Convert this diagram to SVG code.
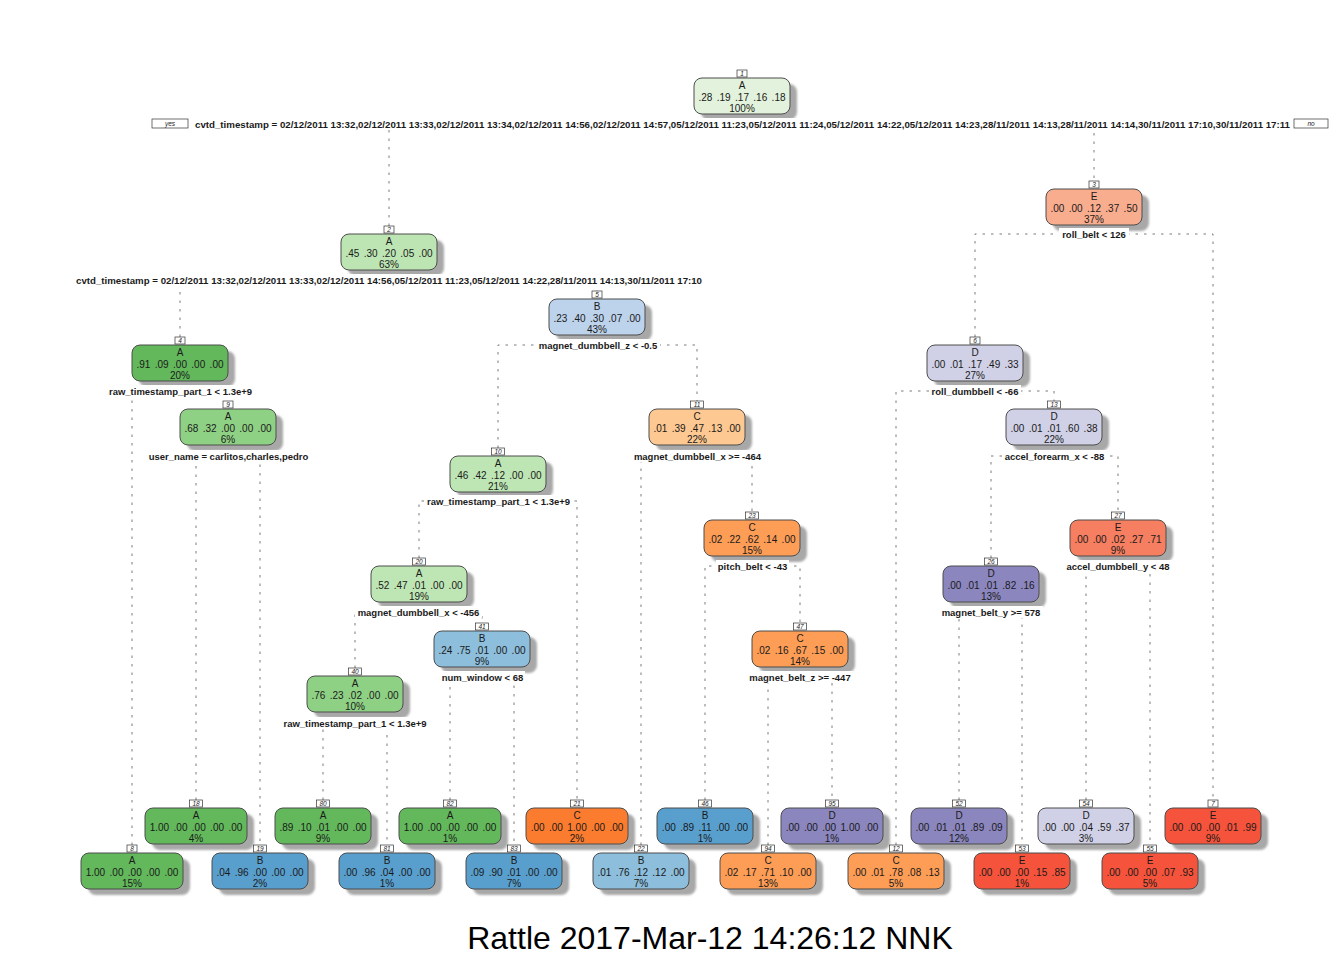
<svg xmlns="http://www.w3.org/2000/svg" width="1344" height="960" viewBox="0 0 1344 960">
<defs>
<filter id="blur" x="-10%" y="-20%" width="120%" height="140%"><feGaussianBlur stdDeviation="1.2"/></filter>
<style>
.sh{fill:#a8a8a8;filter:url(#blur)}
.box{stroke:#4d4d4d;stroke-width:1}
.t{font-family:"Liberation Sans",Arial,sans-serif;font-size:10px;text-anchor:middle;fill:#1a1a1a}
.v{word-spacing:1.6px}
.sp{font-family:"Liberation Sans",Arial,sans-serif;font-size:9.5px;font-weight:bold;text-anchor:middle;fill:#1a1a1a}
.bg{fill:#fff}
.nb{fill:#fff;stroke:#333;stroke-width:0.7}
.nt{font-family:"Liberation Sans",Arial,sans-serif;font-size:6.5px;font-style:italic;text-anchor:middle;fill:#222}
.c{fill:none;stroke:#7a7a7a;stroke-width:1;stroke-dasharray:2.5 6}
.yn{fill:#fff;stroke:#333;stroke-width:0.7}
.ft{font-family:"Liberation Sans",Arial,sans-serif;font-size:32px;text-anchor:middle;fill:#000}
</style>
</defs>
<rect width="1344" height="960" fill="#fff"/>
<g id="connectors">
<path class="c" d="M389,226 V124 H1094 V181"/>
<path class="c" d="M180,337 V280 H597 V291"/>
<path class="c" d="M975,337 V234 H1213 V800"/>
<path class="c" d="M132,845 V391 H228 V401"/>
<path class="c" d="M498,448 V345 H697 V401"/>
<path class="c" d="M896,845 V391 H1054 V401"/>
<path class="c" d="M196,800 V456 H260 V845"/>
<path class="c" d="M419,558 V501 H577 V800"/>
<path class="c" d="M641,845 V456 H752 V512"/>
<path class="c" d="M991,558 V456 H1118 V512"/>
<path class="c" d="M355,668 V612 H482 V623"/>
<path class="c" d="M705,800 V566 H800 V623"/>
<path class="c" d="M959,800 V612 H1022 V845"/>
<path class="c" d="M1086,800 V566 H1150 V845"/>
<path class="c" d="M323,800 V723 H387 V845"/>
<path class="c" d="M450,800 V677 H514 V845"/>
<path class="c" d="M768,845 V677 H832 V800"/>
</g>

<g id="node1">
<rect class="sh" x="701" y="84" width="96" height="36" rx="8"/>
<rect class="box" x="694" y="78" width="96" height="36" rx="8" fill="#e2f2dc"/>
<rect class="nb" x="737" y="70" width="10" height="7"/><text class="nt" x="742" y="76">1</text>
<text class="t" x="742" y="89">A</text><text class="t v" x="742" y="100.5">.28 .19 .17 .16 .18</text><text class="t" x="742" y="112">100%</text>
<rect class="bg" x="192" y="118" width="1101" height="12"/>
<text class="sp" x="742.5" y="127.5" textLength="1095" lengthAdjust="spacingAndGlyphs">cvtd_timestamp = 02/12/2011 13:32,02/12/2011 13:33,02/12/2011 13:34,02/12/2011 14:56,02/12/2011 14:57,05/12/2011 11:23,05/12/2011 11:24,05/12/2011 14:22,05/12/2011 14:23,28/11/2011 14:13,28/11/2011 14:14,30/11/2011 17:10,30/11/2011 17:11</text>
<rect class="yn" x="152" y="119" width="36" height="9"/><text class="nt" x="170" y="126">yes</text>
<rect class="yn" x="1294" y="119" width="34" height="9"/><text class="nt" x="1311" y="126">no</text>
</g>

<g id="node2">
<rect class="sh" x="348" y="240" width="96" height="36" rx="8"/>
<rect class="box" x="341" y="234" width="96" height="36" rx="8" fill="#bde5b3"/>
<rect class="nb" x="384" y="226" width="10" height="7"/><text class="nt" x="389" y="232">2</text>
<text class="t" x="389" y="245">A</text><text class="t v" x="389" y="256.5">.45 .30 .20 .05 .00</text><text class="t" x="389" y="268">63%</text>
<rect class="bg" x="73" y="274" width="632" height="12"/>
<text class="sp" x="389" y="283.5" textLength="626" lengthAdjust="spacingAndGlyphs">cvtd_timestamp = 02/12/2011 13:32,02/12/2011 13:33,02/12/2011 14:56,05/12/2011 11:23,05/12/2011 14:22,28/11/2011 14:13,30/11/2011 17:10</text>
</g>

<g id="node3">
<rect class="sh" x="1053" y="195" width="96" height="36" rx="8"/>
<rect class="box" x="1046" y="189" width="96" height="36" rx="8" fill="#f9ad8f"/>
<rect class="nb" x="1089" y="181" width="10" height="7"/><text class="nt" x="1094" y="187">3</text>
<text class="t" x="1094" y="200">E</text><text class="t v" x="1094" y="211.5">.00 .00 .12 .37 .50</text><text class="t" x="1094" y="223">37%</text>
<rect class="bg" x="1059" y="228" width="70" height="12"/>
<text class="sp" x="1094" y="237.5">roll_belt &lt; 126</text>
</g>

<g id="node4">
<rect class="sh" x="139" y="351" width="96" height="36" rx="8"/>
<rect class="box" x="132" y="345" width="96" height="36" rx="8" fill="#63b85c"/>
<rect class="nb" x="175" y="337" width="10" height="7"/><text class="nt" x="180" y="343">4</text>
<text class="t" x="180" y="356">A</text><text class="t v" x="180" y="367.5">.91 .09 .00 .00 .00</text><text class="t" x="180" y="379">20%</text>
<rect class="bg" x="105" y="385" width="151" height="12"/>
<text class="sp" x="180.5" y="394.5">raw_timestamp_part_1 &lt; 1.3e+9</text>
</g>

<g id="node5">
<rect class="sh" x="556" y="305" width="96" height="36" rx="8"/>
<rect class="box" x="549" y="299" width="96" height="36" rx="8" fill="#bdd3ec"/>
<rect class="nb" x="592" y="291" width="10" height="7"/><text class="nt" x="597" y="297">5</text>
<text class="t" x="597" y="310">B</text><text class="t v" x="597" y="321.5">.23 .40 .30 .07 .00</text><text class="t" x="597" y="333">43%</text>
<rect class="bg" x="536" y="339" width="124" height="12"/>
<text class="sp" x="598" y="348.5">magnet_dumbbell_z &lt; -0.5</text>
</g>

<g id="node6">
<rect class="sh" x="934" y="351" width="96" height="36" rx="8"/>
<rect class="box" x="927" y="345" width="96" height="36" rx="8" fill="#d0d1e6"/>
<rect class="nb" x="970" y="337" width="10" height="7"/><text class="nt" x="975" y="343">6</text>
<text class="t" x="975" y="356">D</text><text class="t v" x="975" y="367.5">.00 .01 .17 .49 .33</text><text class="t" x="975" y="379">27%</text>
<rect class="bg" x="929" y="385" width="92" height="12"/>
<text class="sp" x="975" y="394.5">roll_dumbbell &lt; -66</text>
</g>

<g id="node9">
<rect class="sh" x="187" y="415" width="96" height="36" rx="8"/>
<rect class="box" x="180" y="409" width="96" height="36" rx="8" fill="#8fd184"/>
<rect class="nb" x="223" y="401" width="10" height="7"/><text class="nt" x="228" y="407">9</text>
<text class="t" x="228" y="420">A</text><text class="t v" x="228" y="431.5">.68 .32 .00 .00 .00</text><text class="t" x="228" y="443">6%</text>
<rect class="bg" x="146" y="450" width="165" height="12"/>
<text class="sp" x="228.5" y="459.5">user_name = carlitos,charles,pedro</text>
</g>

<g id="node10">
<rect class="sh" x="457" y="462" width="96" height="36" rx="8"/>
<rect class="box" x="450" y="456" width="96" height="36" rx="8" fill="#bee6b4"/>
<rect class="nb" x="491.5" y="448" width="13" height="7"/><text class="nt" x="498" y="454">10</text>
<text class="t" x="498" y="467">A</text><text class="t v" x="498" y="478.5">.46 .42 .12 .00 .00</text><text class="t" x="498" y="490">21%</text>
<rect class="bg" x="425" y="495" width="147" height="12"/>
<text class="sp" x="498.5" y="504.5">raw_timestamp_part_1 &lt; 1.3e+9</text>
</g>

<g id="node11">
<rect class="sh" x="656" y="415" width="96" height="36" rx="8"/>
<rect class="box" x="649" y="409" width="96" height="36" rx="8" fill="#fdc891"/>
<rect class="nb" x="690.5" y="401" width="13" height="7"/><text class="nt" x="697" y="407">11</text>
<text class="t" x="697" y="420">C</text><text class="t v" x="697" y="431.5">.01 .39 .47 .13 .00</text><text class="t" x="697" y="443">22%</text>
<rect class="bg" x="631" y="450" width="133" height="12"/>
<text class="sp" x="697.5" y="459.5">magnet_dumbbell_x &gt;= -464</text>
</g>

<g id="node13">
<rect class="sh" x="1013" y="415" width="96" height="36" rx="8"/>
<rect class="box" x="1006" y="409" width="96" height="36" rx="8" fill="#d0d1e6"/>
<rect class="nb" x="1047.5" y="401" width="13" height="7"/><text class="nt" x="1054" y="407">13</text>
<text class="t" x="1054" y="420">D</text><text class="t v" x="1054" y="431.5">.00 .01 .01 .60 .38</text><text class="t" x="1054" y="443">22%</text>
<rect class="bg" x="1002" y="450" width="105" height="12"/>
<text class="sp" x="1054.5" y="459.5">accel_forearm_x &lt; -88</text>
</g>

<g id="node20">
<rect class="sh" x="378" y="572" width="96" height="36" rx="8"/>
<rect class="box" x="371" y="566" width="96" height="36" rx="8" fill="#bee6b4"/>
<rect class="nb" x="412.5" y="558" width="13" height="7"/><text class="nt" x="419" y="564">20</text>
<text class="t" x="419" y="577">A</text><text class="t v" x="419" y="588.5">.52 .47 .01 .00 .00</text><text class="t" x="419" y="600">19%</text>
<rect class="bg" x="355" y="606" width="127" height="12"/>
<text class="sp" x="418.5" y="615.5">magnet_dumbbell_x &lt; -456</text>
</g>

<g id="node23">
<rect class="sh" x="711" y="526" width="96" height="36" rx="8"/>
<rect class="box" x="704" y="520" width="96" height="36" rx="8" fill="#fd9d56"/>
<rect class="nb" x="745.5" y="512" width="13" height="7"/><text class="nt" x="752" y="518">23</text>
<text class="t" x="752" y="531">C</text><text class="t v" x="752" y="542.5">.02 .22 .62 .14 .00</text><text class="t" x="752" y="554">15%</text>
<rect class="bg" x="716" y="560" width="73" height="12"/>
<text class="sp" x="752.5" y="569.5">pitch_belt &lt; -43</text>
</g>

<g id="node26">
<rect class="sh" x="950" y="572" width="96" height="36" rx="8"/>
<rect class="box" x="943" y="566" width="96" height="36" rx="8" fill="#8b86be"/>
<rect class="nb" x="984.5" y="558" width="13" height="7"/><text class="nt" x="991" y="564">26</text>
<text class="t" x="991" y="577">D</text><text class="t v" x="991" y="588.5">.00 .01 .01 .82 .16</text><text class="t" x="991" y="600">13%</text>
<rect class="bg" x="939" y="606" width="104" height="12"/>
<text class="sp" x="991" y="615.5">magnet_belt_y &gt;= 578</text>
</g>

<g id="node27">
<rect class="sh" x="1077" y="526" width="96" height="36" rx="8"/>
<rect class="box" x="1070" y="520" width="96" height="36" rx="8" fill="#f67e61"/>
<rect class="nb" x="1111.5" y="512" width="13" height="7"/><text class="nt" x="1118" y="518">27</text>
<text class="t" x="1118" y="531">E</text><text class="t v" x="1118" y="542.5">.00 .00 .02 .27 .71</text><text class="t" x="1118" y="554">9%</text>
<rect class="bg" x="1064" y="560" width="108" height="12"/>
<text class="sp" x="1118" y="569.5">accel_dumbbell_y &lt; 48</text>
</g>

<g id="node40">
<rect class="sh" x="314" y="682" width="96" height="36" rx="8"/>
<rect class="box" x="307" y="676" width="96" height="36" rx="8" fill="#8fd184"/>
<rect class="nb" x="348.5" y="668" width="13" height="7"/><text class="nt" x="355" y="674">40</text>
<text class="t" x="355" y="687">A</text><text class="t v" x="355" y="698.5">.76 .23 .02 .00 .00</text><text class="t" x="355" y="710">10%</text>
<rect class="bg" x="281" y="717" width="148" height="12"/>
<text class="sp" x="355" y="726.5">raw_timestamp_part_1 &lt; 1.3e+9</text>
</g>

<g id="node41">
<rect class="sh" x="441" y="637" width="96" height="36" rx="8"/>
<rect class="box" x="434" y="631" width="96" height="36" rx="8" fill="#8dbedc"/>
<rect class="nb" x="475.5" y="623" width="13" height="7"/><text class="nt" x="482" y="629">41</text>
<text class="t" x="482" y="642">B</text><text class="t v" x="482" y="653.5">.24 .75 .01 .00 .00</text><text class="t" x="482" y="665">9%</text>
<rect class="bg" x="440" y="671" width="85" height="12"/>
<text class="sp" x="482.5" y="680.5">num_window &lt; 68</text>
</g>

<g id="node47">
<rect class="sh" x="759" y="637" width="96" height="36" rx="8"/>
<rect class="box" x="752" y="631" width="96" height="36" rx="8" fill="#fd9d56"/>
<rect class="nb" x="793.5" y="623" width="13" height="7"/><text class="nt" x="800" y="629">47</text>
<text class="t" x="800" y="642">C</text><text class="t v" x="800" y="653.5">.02 .16 .67 .15 .00</text><text class="t" x="800" y="665">14%</text>
<rect class="bg" x="747" y="671" width="106" height="12"/>
<text class="sp" x="800" y="680.5">magnet_belt_z &gt;= -447</text>
</g>

<g id="node18">
<rect class="sh" x="152" y="814" width="102" height="36" rx="8"/>
<rect class="box" x="145" y="808" width="102" height="36" rx="8" fill="#63b85c"/>
<rect class="nb" x="189.5" y="800" width="13" height="7"/><text class="nt" x="196" y="806">18</text>
<text class="t" x="196" y="819">A</text><text class="t v" x="196" y="830.5">1.00 .00 .00 .00 .00</text><text class="t" x="196" y="842">4%</text>
</g>
<g id="node80">
<rect class="sh" x="282" y="814" width="96" height="36" rx="8"/>
<rect class="box" x="275" y="808" width="96" height="36" rx="8" fill="#63b85c"/>
<rect class="nb" x="316.5" y="800" width="13" height="7"/><text class="nt" x="323" y="806">80</text>
<text class="t" x="323" y="819">A</text><text class="t v" x="323" y="830.5">.89 .10 .01 .00 .00</text><text class="t" x="323" y="842">9%</text>
</g>
<g id="node82">
<rect class="sh" x="406" y="814" width="102" height="36" rx="8"/>
<rect class="box" x="399" y="808" width="102" height="36" rx="8" fill="#63b85c"/>
<rect class="nb" x="443.5" y="800" width="13" height="7"/><text class="nt" x="450" y="806">82</text>
<text class="t" x="450" y="819">A</text><text class="t v" x="450" y="830.5">1.00 .00 .00 .00 .00</text><text class="t" x="450" y="842">1%</text>
</g>
<g id="node21">
<rect class="sh" x="533" y="814" width="102" height="36" rx="8"/>
<rect class="box" x="526" y="808" width="102" height="36" rx="8" fill="#fc7c2f"/>
<rect class="nb" x="570.5" y="800" width="13" height="7"/><text class="nt" x="577" y="806">21</text>
<text class="t" x="577" y="819">C</text><text class="t v" x="577" y="830.5">.00 .00 1.00 .00 .00</text><text class="t" x="577" y="842">2%</text>
</g>
<g id="node46">
<rect class="sh" x="664" y="814" width="96" height="36" rx="8"/>
<rect class="box" x="657" y="808" width="96" height="36" rx="8" fill="#599fcd"/>
<rect class="nb" x="698.5" y="800" width="13" height="7"/><text class="nt" x="705" y="806">46</text>
<text class="t" x="705" y="819">B</text><text class="t v" x="705" y="830.5">.00 .89 .11 .00 .00</text><text class="t" x="705" y="842">1%</text>
</g>
<g id="node95">
<rect class="sh" x="788" y="814" width="102" height="36" rx="8"/>
<rect class="box" x="781" y="808" width="102" height="36" rx="8" fill="#8b86be"/>
<rect class="nb" x="825.5" y="800" width="13" height="7"/><text class="nt" x="832" y="806">95</text>
<text class="t" x="832" y="819">D</text><text class="t v" x="832" y="830.5">.00 .00 .00 1.00 .00</text><text class="t" x="832" y="842">1%</text>
</g>
<g id="node52">
<rect class="sh" x="918" y="814" width="96" height="36" rx="8"/>
<rect class="box" x="911" y="808" width="96" height="36" rx="8" fill="#8b86be"/>
<rect class="nb" x="952.5" y="800" width="13" height="7"/><text class="nt" x="959" y="806">52</text>
<text class="t" x="959" y="819">D</text><text class="t v" x="959" y="830.5">.00 .01 .01 .89 .09</text><text class="t" x="959" y="842">12%</text>
</g>
<g id="node54">
<rect class="sh" x="1045" y="814" width="96" height="36" rx="8"/>
<rect class="box" x="1038" y="808" width="96" height="36" rx="8" fill="#d0d1e6"/>
<rect class="nb" x="1079.5" y="800" width="13" height="7"/><text class="nt" x="1086" y="806">54</text>
<text class="t" x="1086" y="819">D</text><text class="t v" x="1086" y="830.5">.00 .00 .04 .59 .37</text><text class="t" x="1086" y="842">3%</text>
</g>
<g id="node7">
<rect class="sh" x="1172" y="814" width="96" height="36" rx="8"/>
<rect class="box" x="1165" y="808" width="96" height="36" rx="8" fill="#f5533b"/>
<rect class="nb" x="1208" y="800" width="10" height="7"/><text class="nt" x="1213" y="806">7</text>
<text class="t" x="1213" y="819">E</text><text class="t v" x="1213" y="830.5">.00 .00 .00 .01 .99</text><text class="t" x="1213" y="842">9%</text>
</g>

<g id="node8">
<rect class="sh" x="88" y="859" width="102" height="36" rx="8"/>
<rect class="box" x="81" y="853" width="102" height="36" rx="8" fill="#63b85c"/>
<rect class="nb" x="127" y="845" width="10" height="7"/><text class="nt" x="132" y="851">8</text>
<text class="t" x="132" y="864">A</text><text class="t v" x="132" y="875.5">1.00 .00 .00 .00 .00</text><text class="t" x="132" y="887">15%</text>
</g>
<g id="node19">
<rect class="sh" x="219" y="859" width="96" height="36" rx="8"/>
<rect class="box" x="212" y="853" width="96" height="36" rx="8" fill="#599fcd"/>
<rect class="nb" x="253.5" y="845" width="13" height="7"/><text class="nt" x="260" y="851">19</text>
<text class="t" x="260" y="864">B</text><text class="t v" x="260" y="875.5">.04 .96 .00 .00 .00</text><text class="t" x="260" y="887">2%</text>
</g>
<g id="node81">
<rect class="sh" x="346" y="859" width="96" height="36" rx="8"/>
<rect class="box" x="339" y="853" width="96" height="36" rx="8" fill="#599fcd"/>
<rect class="nb" x="380.5" y="845" width="13" height="7"/><text class="nt" x="387" y="851">81</text>
<text class="t" x="387" y="864">B</text><text class="t v" x="387" y="875.5">.00 .96 .04 .00 .00</text><text class="t" x="387" y="887">1%</text>
</g>
<g id="node83">
<rect class="sh" x="473" y="859" width="96" height="36" rx="8"/>
<rect class="box" x="466" y="853" width="96" height="36" rx="8" fill="#599fcd"/>
<rect class="nb" x="507.5" y="845" width="13" height="7"/><text class="nt" x="514" y="851">83</text>
<text class="t" x="514" y="864">B</text><text class="t v" x="514" y="875.5">.09 .90 .01 .00 .00</text><text class="t" x="514" y="887">7%</text>
</g>
<g id="node22">
<rect class="sh" x="600" y="859" width="96" height="36" rx="8"/>
<rect class="box" x="593" y="853" width="96" height="36" rx="8" fill="#8dbedc"/>
<rect class="nb" x="634.5" y="845" width="13" height="7"/><text class="nt" x="641" y="851">22</text>
<text class="t" x="641" y="864">B</text><text class="t v" x="641" y="875.5">.01 .76 .12 .12 .00</text><text class="t" x="641" y="887">7%</text>
</g>
<g id="node94">
<rect class="sh" x="727" y="859" width="96" height="36" rx="8"/>
<rect class="box" x="720" y="853" width="96" height="36" rx="8" fill="#fd9d56"/>
<rect class="nb" x="761.5" y="845" width="13" height="7"/><text class="nt" x="768" y="851">94</text>
<text class="t" x="768" y="864">C</text><text class="t v" x="768" y="875.5">.02 .17 .71 .10 .00</text><text class="t" x="768" y="887">13%</text>
</g>
<g id="node12">
<rect class="sh" x="855" y="859" width="96" height="36" rx="8"/>
<rect class="box" x="848" y="853" width="96" height="36" rx="8" fill="#fd9d56"/>
<rect class="nb" x="889.5" y="845" width="13" height="7"/><text class="nt" x="896" y="851">12</text>
<text class="t" x="896" y="864">C</text><text class="t v" x="896" y="875.5">.00 .01 .78 .08 .13</text><text class="t" x="896" y="887">5%</text>
</g>
<g id="node53">
<rect class="sh" x="981" y="859" width="96" height="36" rx="8"/>
<rect class="box" x="974" y="853" width="96" height="36" rx="8" fill="#f5533b"/>
<rect class="nb" x="1015.5" y="845" width="13" height="7"/><text class="nt" x="1022" y="851">53</text>
<text class="t" x="1022" y="864">E</text><text class="t v" x="1022" y="875.5">.00 .00 .00 .15 .85</text><text class="t" x="1022" y="887">1%</text>
</g>
<g id="node55">
<rect class="sh" x="1109" y="859" width="96" height="36" rx="8"/>
<rect class="box" x="1102" y="853" width="96" height="36" rx="8" fill="#f5533b"/>
<rect class="nb" x="1143.5" y="845" width="13" height="7"/><text class="nt" x="1150" y="851">55</text>
<text class="t" x="1150" y="864">E</text><text class="t v" x="1150" y="875.5">.00 .00 .00 .07 .93</text><text class="t" x="1150" y="887">5%</text>
</g>

<text class="ft" x="710" y="949">Rattle 2017-Mar-12 14:26:12 NNK</text>
</svg>
